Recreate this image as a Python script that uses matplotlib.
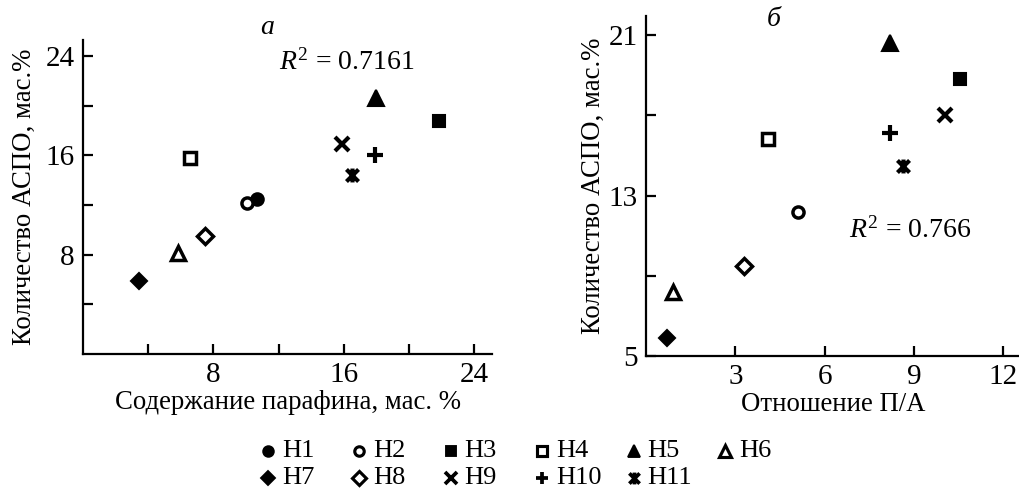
import matplotlib
matplotlib.use("Agg")
import matplotlib.pyplot as plt
from matplotlib.lines import Line2D
from matplotlib.path import Path

plt.rcParams['font.family'] = ['Liberation Serif', 'DejaVu Serif']
plt.rcParams['mathtext.fontset'] = 'custom'
plt.rcParams['mathtext.rm'] = 'Liberation Serif'
plt.rcParams['mathtext.it'] = 'Liberation Serif:italic'

####### ДАННЫЕ ################
names = ["Н1", "Н2", "Н3", "Н4", "Н5", "Н6", "Н7", "Н8", "Н9", "Н10", "Н11"]

# a : парафин (мас.%) -> АСПО (мас.%)
par_a = [10.7, 10.05, 21.85, 6.55, 18.0, 5.85, 3.45, 7.5, 15.9, 17.9, 16.5]
aspo_a = [12.45, 12.15, 18.75, 15.8, 20.6, 8.1, 5.9, 9.5, 16.95, 16.05, 14.4]

# б : отношение П/А -> АСПО (мас.%)   (Н1 not shown on panel б)
pa_b = [None, 5.1, 10.55, 4.1, 8.2, 0.9, 0.7, 3.3, 10.05, 8.2, 8.65]
aspo_b = [None, 12.2, 18.8, 15.8, 20.6, 8.2, 5.9, 9.5, 17.0, 16.1, 14.5]

r2_a = "0.7161"
r2_b = "0.766"
###############################

# X with a vertical bar (marker for Н11)
star = Path([(-1, -1), (1, 1), (-1, 1), (1, -1), (0, -1.15), (0, 1.15)],
            [Path.MOVETO, Path.LINETO] * 3)

# marker, filled?, size, edge width
styles = [("o", True, 9, 1.5), ("o", False, 8, 2.5), ("s", True, 9, 1.5),
          ("s", False, 9, 2.5), ("^", True, 11, 1.5), ("^", False, 10, 2.5),
          ("D", True, 8, 1.5), ("D", False, 8, 2.5), ("x", True, 10, 3),
          ("+", True, 11, 3), (star, True, 10, 3)]


def draw(ax, xs, ys):
    for i in range(len(names)):
        if xs[i] is None:
            continue
        m, filled, ms, mew = styles[i]
        ax.plot(xs[i], ys[i], linestyle="none", marker=m, ms=ms, mew=mew,
                mec="k", mfc="k" if filled else "w", clip_on=False)


def style(ax):
    for s in ["top", "right"]:
        ax.spines[s].set_visible(False)
    for s in ["left", "bottom"]:
        ax.spines[s].set_linewidth(1.6)
    ax.tick_params(direction="in", length=7, width=1.6, labelsize=21, pad=6)


fig = plt.figure(figsize=(10.19, 4.91), dpi=100)

ax1 = fig.add_axes([0.0815, 0.279, 0.4013, 0.6395])
draw(ax1, par_a, aspo_a)
style(ax1)
ax1.set_xlim(0, 25.1)
ax1.set_ylim(0, 25.3)
ax1.set_xticks([4, 8, 12, 16, 20, 24])
ax1.set_xticklabels(["", "8", "", "16", "", "24"])
ax1.set_yticks([4, 8, 12, 16, 20, 24])
ax1.set_yticklabels(["", "8", "", "16", "", "24"])
ax1.set_xlabel("Содержание парафина, мас. %", fontsize=19.3, labelpad=1)
ax1.set_ylabel("Количество АСПО, мас.%", fontsize=19.3, labelpad=6)
ax1.text(0.45, 1.04, "а", transform=ax1.transAxes, fontsize=20,
         style="italic", ha="center", va="center")
ax1.text(0.48, 0.93, "$R^2$ = " + r2_a, transform=ax1.transAxes,
         fontsize=20, ha="left", va="center")

ax2 = fig.add_axes([0.634, 0.275, 0.368, 0.692])
draw(ax2, pa_b, aspo_b)
style(ax2)
ax2.set_xlim(0, 12.6)
ax2.set_ylim(5, 21.95)
ax2.set_xticks([3, 6, 9, 12])
ax2.set_yticks([5, 9, 13, 17, 21])
ax2.set_yticklabels(["5", "", "13", "", "21"])
ax2.set_xlabel("Отношение П/А", fontsize=19.3, labelpad=1)
ax2.set_ylabel("Количество АСПО, мас.%", fontsize=19.3, labelpad=2)
ax2.text(0.34, 0.99, "б", transform=ax2.transAxes, fontsize=20,
         style="italic", ha="center", va="center")
ax2.text(0.54, 0.37, "$R^2$ = " + r2_b, transform=ax2.transAxes,
         fontsize=20, ha="left", va="center")

# legend: 6 columns, filled row by row
x0, dx = 0.263, 0.0897
y_rows = [1 - 451 / 491, 1 - 478 / 491]
for i in range(len(names)):
    m, filled, ms, mew = styles[i]
    row, col = divmod(i, 6)
    x = x0 + col * dx
    y = y_rows[row]
    fig.add_artist(Line2D([x], [y], transform=fig.transFigure,
                          linestyle="none", marker=m, ms=ms * 0.85,
                          mew=mew * 0.9, mec="k",
                          mfc="k" if filled else "w"))
    fig.text(x + 0.0135, y, names[i], fontsize=19, ha="left", va="center")

fig.savefig("out.png", dpi=100)
